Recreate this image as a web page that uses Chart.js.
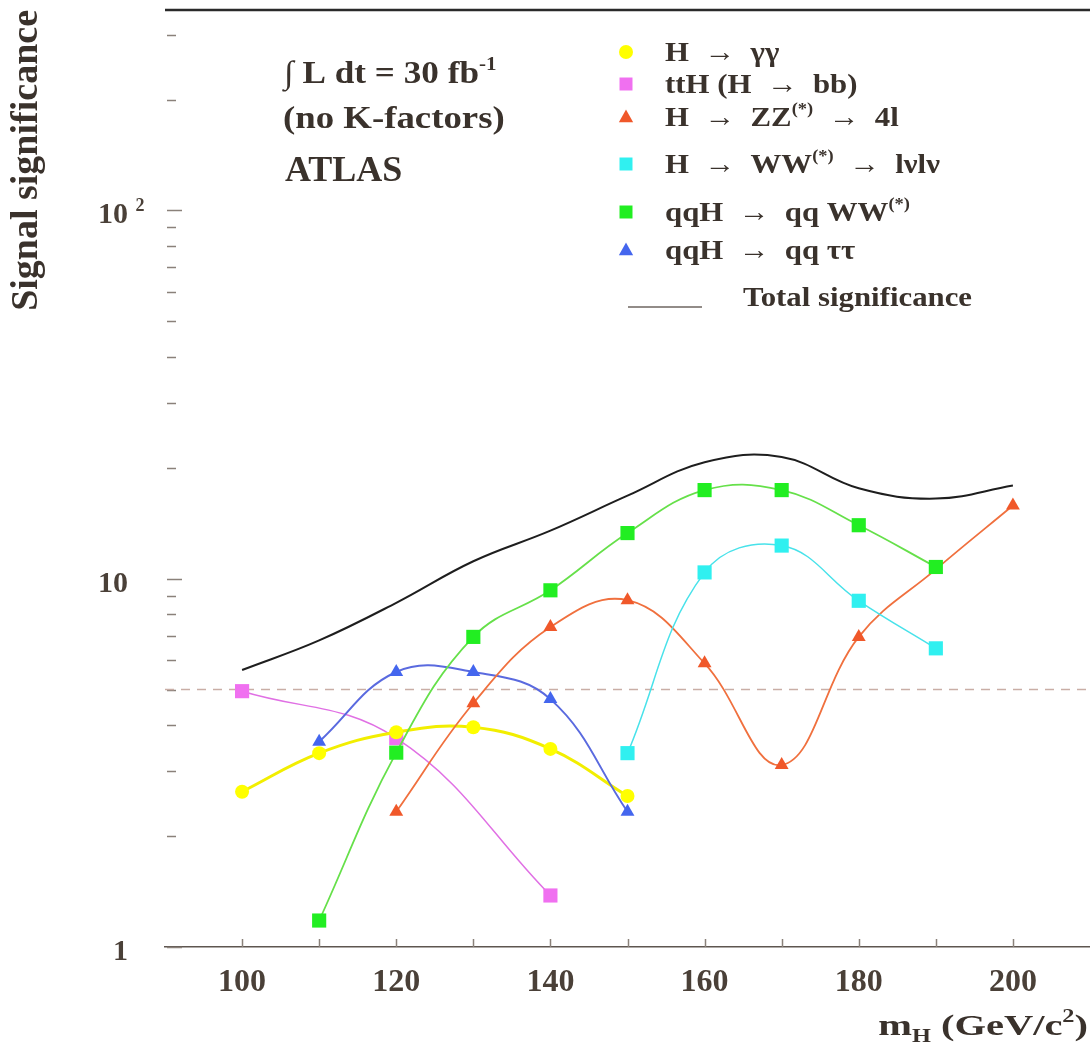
<!DOCTYPE html>
<html>
<head>
<meta charset="utf-8">
<title>Signal significance vs mH</title>
<script src="https://cdn.jsdelivr.net/npm/chart.js"></script>
<style>
    html, body { margin: 0; padding: 0; background: #fff; }
    #graph-container { width: 1090px; height: 1049px; }
</style>
</head>
<body>
<div id="graph-container"><canvas id="myChart" width="1090" height="1049"></canvas></div>
<script>
// Higgs masses (GeV/c^2) where the channels were evaluated
var massPoints = [100, 110, 120, 130, 140, 150, 160, 170, 180, 190, 200];

// signal significance per channel, null = no point at that mass
var sigGamGam    = [2.64, 3.36, 3.83, 3.95, 3.45, 2.57, null, null, null, null, null];
var sigTtH       = [4.95, null, 3.69, null, 1.38, null, null, null, null, null, null];
var sigZZ        = [null, null, 2.33, 4.59, 7.39, 8.74, 5.89, 3.12, 6.95, 10.6, 15.8];
var sigWW        = [null, null, null, null, null, 3.36, 10.4, 12.3, 8.71, 6.47, null];
var sigVbfWW     = [null, 1.18, 3.37, 6.95, 9.3, 13.3, 17.4, 17.4, 13.97, 10.76, null];
var sigVbfTauTau = [null, 3.61, 5.58, 5.58, 4.71, 2.33, null, null, null, null, null];
var sigTotal     = [5.65, 6.8, 8.6, 11.15, 13.5, 16.8, 20.7, 21.4, 17.6, 16.5, 17.9];

var discoveryLevel = 5; // 5 sigma dashed line

var seriesNames = [
    'H  →  γγ',
    'ttH (H  →  bb)',
    'H  →  ZZ^{(*)}  →  4l',
    'H  →  WW^{(*)}  →  lνlν',
    'qqH  →  qq WW^{(*)}',
    'qqH  →  qq ττ',
    'Total significance'
];

var xRange = [90, 210];
var yRange = [1, 350];
var xTickLabels = [100, 120, 140, 160, 180, 200];
var yTickValues = [1, 10, 100];
var yTickLabels = ['1', '10', '10 ^{2}'];

var SERIF = '"Liberation Serif", "Times New Roman", serif';
var TEXT_COLOR = '#3a322c';

function toPoints(values) {
    var pts = [];
    for (var i = 0; i < values.length; i++) {
        if (values[i] !== null) pts.push({ x: massPoints[i], y: values[i] });
    }
    return pts;
}

function series(idx, values, markerColor, lineColor, style, radius, width, order) {
    return {
        label: seriesNames[idx].replace(/\^\{|\}/g, ''),
        legendText: seriesNames[idx],
        data: toPoints(values),
        borderColor: lineColor,
        backgroundColor: markerColor,
        pointBackgroundColor: markerColor,
        pointBorderColor: markerColor,
        pointBorderWidth: 0,
        pointStyle: style,
        pointRadius: radius,
        borderWidth: width,
        tension: 0.4,
        order: order
    };
}

// rich text: ^{..} superscript, _{..} subscript
function drawRich(ctx, str, x, y, o) {
    var parts = str.split(/(\^\{[^}]*\}|_\{[^}]*\})/).filter(function (p) { return p.length > 0; }).map(function (p) {
        if (p.charAt(0) === '^' && p.charAt(1) === '{') return { t: p.slice(2, -1), k: 'sup' };
        if (p.charAt(0) === '_' && p.charAt(1) === '{') return { t: p.slice(2, -1), k: 'sub' };
        return { t: p, k: 'n' };
    });
    var size = o.size, weight = o.weight || 'bold', stretch = o.stretch || 1;
    var total = 0;
    parts.forEach(function (p) {
        p.size = p.k === 'n' ? size : size * 0.6;
        p.dy = p.k === 'sup' ? -size * 0.42 : (p.k === 'sub' ? size * 0.22 : 0);
        ctx.font = weight + ' ' + p.size + 'px ' + SERIF;
        p.w = ctx.measureText(p.t).width;
        total += p.w;
    });
    ctx.save();
    ctx.translate(x, y);
    ctx.scale(stretch, 1);
    ctx.fillStyle = o.color || TEXT_COLOR;
    ctx.textBaseline = 'alphabetic';
    ctx.textAlign = 'left';
    var cx = o.align === 'right' ? -total : 0;
    parts.forEach(function (p) {
        ctx.font = weight + ' ' + p.size + 'px ' + SERIF;
        ctx.fillText(p.t, cx, p.dy);
        cx += p.w;
    });
    ctx.restore();
    return total * stretch;
}

function drawMarker(ctx, style, x, y, r, color) {
    ctx.fillStyle = color;
    ctx.beginPath();
    if (style === 'circle') {
        ctx.arc(x, y, r, 0, 2 * Math.PI);
    } else if (style === 'rect') {
        ctx.rect(x - r, y - r, 2 * r, 2 * r);
    } else {
        ctx.moveTo(x, y - r);
        ctx.lineTo(x + r * 0.95, y + r * 0.7);
        ctx.lineTo(x - r * 0.95, y + r * 0.7);
        ctx.closePath();
    }
    ctx.fill();
}

// frame: top line and inward tick marks
var framePlugin = {
    id: 'frame',
    beforeDatasetsDraw: function (chart) {
        var ctx = chart.ctx, area = chart.chartArea;
        var ys = chart.scales.y, xs = chart.scales.x;
        ctx.save();
        ctx.strokeStyle = '#8a817a';
        ctx.lineWidth = 1.5;
        ys.ticks.forEach(function (t) {
            var e = Math.floor(Math.log10(t.value) + 1e-9);
            var m = t.value / Math.pow(10, e);
            if (Math.abs(m - Math.round(m)) > 1e-6) return;
            var len = Math.round(m) === 1 ? 15 : 9;
            var py = Math.round(ys.getPixelForValue(t.value)) + 0.5;
            ctx.beginPath();
            ctx.moveTo(area.left + 2, py);
            ctx.lineTo(area.left + 2 + len, py);
            ctx.stroke();
        });
        xs.ticks.forEach(function (t) {
            if (t.value <= xRange[0] || t.value >= xRange[1]) return;
            var px = Math.round(xs.getPixelForValue(t.value)) + 0.5;
            ctx.beginPath();
            ctx.moveTo(px, area.bottom);
            ctx.lineTo(px, area.bottom - 8);
            ctx.stroke();
        });
        ctx.restore();
    },
    afterDraw: function (chart) {
        var ctx = chart.ctx, area = chart.chartArea;
        ctx.save();
        ctx.strokeStyle = '#2a2a2a';
        ctx.lineWidth = 2.5;
        ctx.beginPath();
        ctx.moveTo(area.left, area.top);
        ctx.lineTo(area.right, area.top);
        ctx.stroke();
        ctx.restore();
    }
};

// texts: y tick labels, x title, annotations, legend
var textPlugin = {
    id: 'texts',
    afterDraw: function (chart) {
        var ctx = chart.ctx;
        var ys = chart.scales.y;

        for (var i = 0; i < yTickValues.length; i++) {
            var py = ys.getPixelForValue(yTickValues[i]);
            var base = yTickLabels[i].split('^')[0].trim();
            ctx.font = 'bold 30px ' + SERIF;
            var bw = ctx.measureText(base).width;
            drawRich(ctx, yTickLabels[i], 128 - bw, py + 13, { size: 30, color: '#4a4038' });
        }

        drawRich(ctx, 'm_{H} (GeV/c^{2})', 1088, 1035, { size: 30, stretch: 1.35, align: 'right' });

        drawRich(ctx, '∫ L dt = 30 fb^{-1}', 284, 83, { size: 32, stretch: 1.1 });
        drawRich(ctx, '(no K-factors)', 283, 128, { size: 32, stretch: 1.15 });
        drawRich(ctx, 'ATLAS', 285, 181, { size: 36 });

        var rows = [52, 84, 117, 164, 212, 250, 297];
        chart.data.datasets.forEach(function (ds, k) {
            if (!ds.legendText) return;
            var ry = rows[k];
            if (ds.pointRadius > 0) {
                var r = ds.pointStyle === 'circle' ? 7 : (ds.pointStyle === 'rect' ? 6.5 : 7.5);
                drawMarker(ctx, ds.pointStyle, 626, ry, r, ds.pointBackgroundColor);
                drawRich(ctx, ds.legendText, 665, ry + 9, { size: 28, stretch: 1.1 });
            } else {
                ctx.save();
                ctx.strokeStyle = '#6e6660';
                ctx.lineWidth = 1.5;
                ctx.beginPath();
                ctx.moveTo(628, ry + 10);
                ctx.lineTo(702, ry + 10);
                ctx.stroke();
                ctx.restore();
                drawRich(ctx, ds.legendText, 743, ry + 9, { size: 28, stretch: 1.1 });
            }
        });
    }
};

var datasets = [
    series(0, sigGamGam, '#ffff00', '#f2ee00', 'circle', 7, 3, 4),
    series(1, sigTtH, '#f070f0', '#e070e4', 'rect', 10, 1.5, 5),
    series(2, sigZZ, '#f0582a', '#f0703e', 'triangle', 8, 1.8, 2),
    series(3, sigWW, '#30f0f0', '#48e2ea', 'rect', 10, 1.5, 1),
    series(4, sigVbfWW, '#22ee22', '#66e04a', 'rect', 10, 1.8, 0),
    series(5, sigVbfTauTau, '#4466ee', '#5a6adf', 'triangle', 8, 2, 3),
    {
        label: 'Total significance',
        legendText: seriesNames[6],
        data: toPoints(sigTotal),
        borderColor: '#1e1e1e',
        borderWidth: 2,
        pointRadius: 0,
        tension: 0.4,
        order: 6
    },
    {
        label: '5 sigma',
        data: [{ x: xRange[0], y: discoveryLevel }, { x: xRange[1], y: discoveryLevel }],
        borderColor: '#c9aea6',
        borderWidth: 1.5,
        borderDash: [9, 7],
        pointRadius: 0,
        order: 7
    }
];

var ctx = document.getElementById('myChart').getContext('2d');
var myChart = new Chart(ctx, {
    type: 'line',
    data: { datasets: datasets },
    options: {
        responsive: false,
        animation: false,
        layout: { autoPadding: false, padding: { top: 10, right: 0, left: 0, bottom: 0 } },
        plugins: {
            legend: { display: false },
            tooltip: { enabled: false }
        },
        scales: {
            x: {
                type: 'linear',
                min: xRange[0],
                max: xRange[1],
                afterFit: function (scale) {
                    scale.height = 102;
                    scale.paddingLeft = 0;
                    scale.paddingRight = 0;
                },
                grid: { display: false },
                border: { display: true, color: '#5e5650', width: 1.5 },
                ticks: {
                    stepSize: 10,
                    autoSkip: false,
                    maxRotation: 0,
                    padding: 9,
                    color: '#4a4038',
                    font: { family: SERIF, size: 32, weight: 'bold' },
                    callback: function (v) { return xTickLabels.indexOf(v) >= 0 ? String(v) : ''; }
                }
            },
            y: {
                type: 'logarithmic',
                min: yRange[0],
                max: yRange[1],
                afterFit: function (scale) { scale.width = 165; },
                grid: { display: false },
                border: { display: false },
                ticks: { display: false },
                title: {
                    display: true,
                    text: 'Signal significance',
                    align: 'end',
                    color: TEXT_COLOR,
                    font: { family: SERIF, size: 38, weight: 'bold' },
                    padding: { top: 4, bottom: 0 }
                }
            }
        }
    },
    plugins: [framePlugin, textPlugin]
});
</script>
</body>
</html>
